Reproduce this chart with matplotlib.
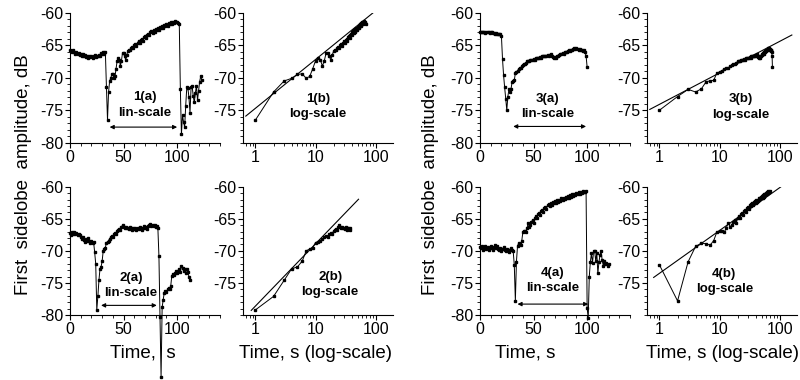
import numpy as np
import matplotlib.pyplot as plt
from matplotlib.ticker import MultipleLocator, NullFormatter

plt.rcParams['font.family'] = ['Liberation Sans', 'DejaVu Sans']
plt.rcParams['axes.unicode_minus'] = False

# amplitude in dB, one sample per second (t = 0, 1, 2, ...)
amp1 = [-65.8, -65.9, -66.0, -65.8, -66.1, -66.3, -66.0, -66.4, -66.2, -66.5,
        -66.3, -66.6, -66.4, -66.7, -66.5, -66.8, -66.6, -66.9, -66.7, -66.8,
        -66.6, -66.9, -66.7, -66.5, -66.8, -66.6, -66.7, -66.5, -66.6, -66.2,
        -66.4, -66.1, -66.3, -66.0, -71.4,
        -76.5, -72.2, -70.5, -70.1, -69.5, -69.4, -70.1, -69.8, -68.6, -67.4,
        -67.0, -67.2, -68.2, -67.4, -66.2, -66.2, -66.7, -67.3, -66.5, -65.9, -65.7,
        -65.8, -65.5, -65.3, -65.5, -65.0, -64.8, -65.1, -64.6, -64.4, -64.7,
        -64.2, -64.0, -64.3, -63.8, -63.6, -63.9, -63.4, -63.2, -63.5, -63.0,
        -62.8, -63.1, -62.7, -62.9, -62.5, -62.7, -62.3, -62.6, -62.2, -62.4,
        -62.0, -62.3, -61.9, -62.1, -61.8, -62.0, -61.6, -61.8, -61.5, -61.7,
        -61.4, -61.6, -61.3, -61.5, -61.4, -61.6, -61.8,
        -71.8, -78.7, -75.8, -76.8, -77.6, -74.3, -71.5, -71.6, -73.0, -75.4,
        -71.5, -71.3, -72.8, -73.8, -72.4, -71.2, -73.5, -72.0, -70.6, -69.8, -70.3]

amp2 = [-67.2, -67.5, -67.1, -67.3, -67.0, -67.4, -67.2, -67.6, -67.3, -67.5,
        -67.8, -68.1, -67.9, -68.3, -68.6, -68.2, -68.5, -68.0, -68.4, -68.7,
        -68.5, -68.8, -68.6, -70.2, -72.0,
        -79.2, -77.1, -74.6, -72.8, -72.5, -71.6, -70.0, -69.7, -69.5, -68.7,
        -68.6, -68.4, -68.1, -67.9, -67.7, -67.8, -67.4, -67.2, -67.3, -66.9,
        -66.8, -66.6, -66.7, -66.3, -66.0, -66.3, -66.4, -66.3, -66.5, -66.4,
        -66.6, -66.3, -66.5, -66.7, -66.4, -66.6, -66.5, -66.8,
        -66.4, -66.6, -66.3, -66.5, -66.7, -66.4, -66.2, -66.5, -66.3, -66.6,
        -66.2, -66.0, -65.8, -66.1, -65.9, -66.2, -66.0, -66.3, -66.2, -66.4,
        -70.8, -80.3, -89.7, -78.8,
        -77.6, -76.5, -76.2, -76.4, -76.0, -75.8, -76.0, -75.5, -73.9, -73.6,
        -73.8, -73.4, -73.2, -73.5, -73.1, -72.8, -73.3, -72.4, -72.7, -73.2,
        -72.9, -73.4, -72.8, -73.3, -74.0, -74.5]

amp3 = [-62.9, -63.0, -62.9, -62.9, -63.0, -63.1, -63.0, -62.9, -63.0, -63.1,
        -63.0, -63.0, -63.1, -63.1, -63.2, -63.1, -63.2, -63.2, -63.3, -63.3,
        -63.6, -67.1, -69.6, -71.5, -73.2,
        -75.0, -72.9, -71.8, -72.2, -71.7, -70.6, -70.5, -70.4, -69.3, -69.1,
        -68.9, -68.7, -68.5, -68.5, -68.2, -68.1, -67.9, -67.9, -67.7, -67.5,
        -67.5, -67.4, -67.3, -67.3, -67.2, -67.1, -67.2, -67.0, -67.0, -66.9,
        -66.9, -66.8, -66.9, -66.7, -66.7, -66.6, -66.7, -66.6, -66.5, -66.6,
        -66.5, -66.4, -66.6, -66.8, -66.9, -66.8, -66.9, -66.7, -66.6, -66.5,
        -66.4, -66.3, -66.2, -66.3, -66.1, -66.0, -66.1, -65.9, -65.8, -65.9,
        -65.7, -65.8, -65.6, -65.5, -65.6, -65.5, -65.6, -65.7, -65.6, -65.8,
        -65.7, -65.9, -65.8, -66.1, -66.6, -68.4]

amp4 = [-69.4, -69.6, -69.3, -69.8, -69.5, -69.2, -69.7, -69.4, -69.9, -69.6,
        -69.3, -69.5, -69.8, -69.4, -69.1, -69.5, -69.3, -69.7, -69.9, -69.6,
        -70.0, -69.7, -69.4, -69.8, -70.1, -69.7, -69.9, -70.2, -69.8, -69.5,
        -69.9, -70.1,
        -72.2, -77.8, -71.7, -69.3, -68.8, -68.9, -69.1, -68.4, -67.1, -66.9,
        -66.9, -67.1, -66.4, -65.6, -66.3, -65.9, -65.5, -65.2, -65.6, -64.9,
        -64.6, -64.9, -64.3, -64.1, -64.4, -63.8, -63.6, -63.9, -63.3, -63.1,
        -63.4, -62.9, -62.7, -63.0, -62.6, -62.8, -62.4, -62.6, -62.2, -62.5,
        -62.1, -62.4, -62.0, -62.2, -61.8, -62.1, -61.7, -61.9, -61.6, -61.8,
        -61.5, -61.7, -61.3, -61.6, -61.2, -61.4, -61.1, -61.3, -61.0, -61.2,
        -60.9, -61.1, -60.8, -61.0, -60.7, -60.9, -60.8, -60.7,
        -78.9, -80.5, -74.0, -71.7, -70.4, -71.9, -70.1, -70.0, -71.6, -70.3,
        -73.5, -71.8, -70.6, -70.1, -71.4, -72.3, -71.6, -72.1, -71.9, -72.3, -72.1]

amps = [amp1, amp2, amp3, amp4]

# part of each record re-plotted against time since the minimum (log panels)
log_start = [35, 25, 25, 32]
log_stop = [103, 63, 101, 100]

# straight-line fits in the log panels: y = a + b*log10(x)
fit_a = [-74.7, -78.6, -74.1, -73.5]
fit_b = [7.5, 9.7, 4.84, 6.67]
fit_x0 = [0.69, 0.85, 0.69, 0.8]
fit_x1 = [115, 52, 160, 115]

# double arrow marking the recovery interval (lin panels)
arrow_t0 = [37, 29, 31, 35]
arrow_t1 = [100, 81, 99, 101]
arrow_y = [-77.6, -78.5, -77.5, -78.3]

lin_text_xy = [(70, -74.2), (57, -75.4), (63, -74.4), (68, -74.6)]
log_text_xy = [(11, -74.4), (17.5, -75.2), (22.5, -74.5), (12, -74.8)]

fig = plt.figure(figsize=(8, 3.8), dpi=100)

W, H = 800.0, 380.0
lefts_a = [70, 70, 480, 480]
lefts_b = [243, 243, 647, 647]
tops = [12.7, 186.7, 12.7, 186.7]
bots = [142.7, 315, 142.7, 315]
aw = 150


def style(ax):
    for s in ['top', 'right']:
        ax.spines[s].set_visible(False)
    ax.tick_params(which='major', direction='out', length=3.5, width=0.8,
                   labelsize=11.5, pad=1.5)
    ax.tick_params(which='minor', direction='out', length=2, width=0.6)
    ax.set_ylim(-80, -60)
    ax.yaxis.set_minor_locator(MultipleLocator(1))


for i in range(4):
    y = np.array(amps[i])
    t = np.arange(len(y))
    b = (H - bots[i]) / H
    h = (bots[i] - tops[i]) / H

    # linear time panel
    ax = fig.add_axes([lefts_a[i] / W, b, aw / W, h])
    style(ax)
    ax.plot(t, y, '-s', color='k', lw=0.7, ms=2.1, clip_on=False)
    ax.set_xlim(0, 140)
    ax.set_xticks([0, 50, 100])
    ax.xaxis.set_minor_locator(MultipleLocator(10))
    ax.set_yticks([-80, -75, -70, -65, -60])
    ax.annotate('', xy=(arrow_t1[i], arrow_y[i]), xytext=(arrow_t0[i], arrow_y[i]),
                arrowprops=dict(arrowstyle='<|-|>', color='k', lw=0.8,
                                mutation_scale=6, shrinkA=0, shrinkB=0))
    ax.text(lin_text_xy[i][0], lin_text_xy[i][1], f'{i + 1}(a)\nlin-scale',
            ha='center', va='center', fontsize=9.5, fontweight='bold',
            linespacing=1.35)

    # log time panel
    yb = y[log_start[i]:log_stop[i]]
    xb = np.arange(1, len(yb) + 1)
    ax2 = fig.add_axes([lefts_b[i] / W, b, aw / W, h])
    style(ax2)
    ax2.set_xscale('log')
    ax2.plot(xb, yb, '-s', color='k', lw=0.7, ms=2.1)
    xf = np.array([fit_x0[i], fit_x1[i]])
    ax2.plot(xf, fit_a[i] + fit_b[i] * np.log10(xf), color='k', lw=0.8)
    ax2.set_xlim(0.62, 195)
    ax2.set_xticks([1, 10, 100], ['1', '10', '100'])
    ax2.xaxis.set_minor_formatter(NullFormatter())
    ax2.set_yticks([-75, -70, -65, -60])
    ax2.text(log_text_xy[i][0], log_text_xy[i][1], f'{i + 1}(b)\nlog-scale',
             ha='center', va='center', fontsize=9.5, fontweight='bold',
             linespacing=1.35)

ylab = 'First  sidelobe  amplitude, dB'
fig.text(24 / W, 0.541, ylab, rotation=90, ha='center', va='center', fontsize=13.5)
fig.text(431 / W, 0.541, ylab, rotation=90, ha='center', va='center', fontsize=13.5)
fig.text(142.5 / W, 0.071, 'Time,  s', ha='center', va='center', fontsize=13.5)
fig.text(525 / W, 0.071, 'Time, s', ha='center', va='center', fontsize=13.5)
fig.text(315.5 / W, 0.071, 'Time, s (log-scale)', ha='center', va='center', fontsize=13.5)
fig.text(722.5 / W, 0.071, 'Time, s (log-scale)', ha='center', va='center', fontsize=13.5)

fig.savefig('out.png', dpi=100)
